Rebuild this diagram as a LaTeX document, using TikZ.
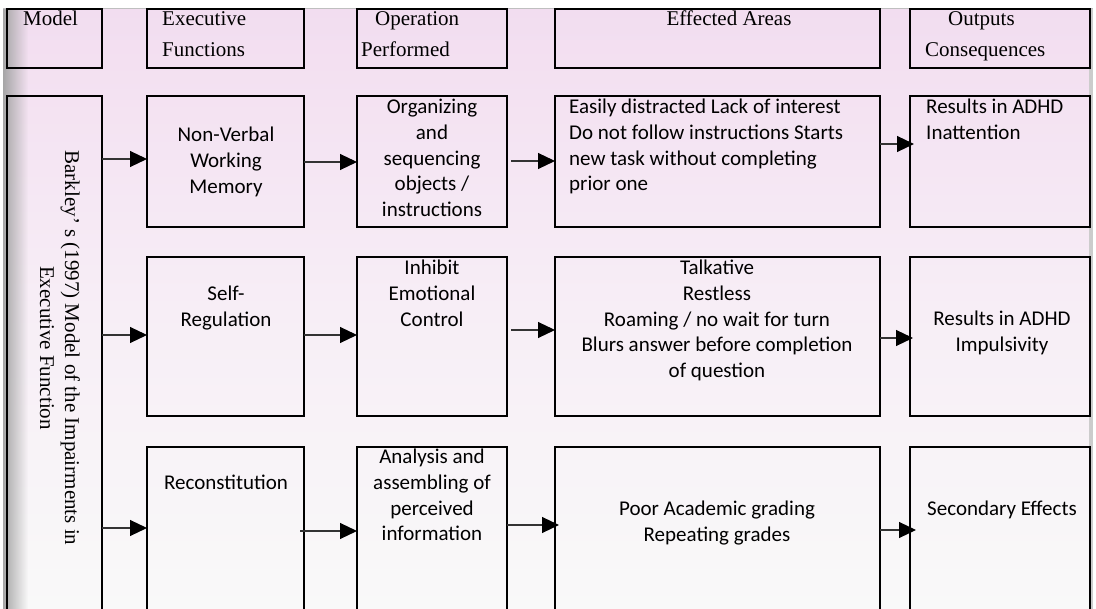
\documentclass[tikz,border=0pt]{standalone}
\usepackage{fontspec}
\setmainfont{Liberation Serif}
\newfontfamily\calib{Carlito}
\usetikzlibrary{arrows.meta,fadings}
\definecolor{pinktop}{RGB}{242,221,240}
\definecolor{pinkmid}{RGB}{247,238,246}
\definecolor{pinkbot}{RGB}{249,249,249}
\tikzset{
  box/.style={draw=black, line width=1.8pt, rectangle, inner sep=0pt, outer sep=0pt, anchor=north west},
  ctext/.style={font=\calib\fontsize{21}{25.7}\selectfont, align=center, inner sep=0pt},
  ltext/.style={font=\calib\fontsize{21}{25.7}\selectfont, align=left, inner sep=0pt},
  htext/.style={font=\fontsize{21}{31}\selectfont, align=left, inner sep=0pt},
  arr/.style={draw=black!80, line width=1.1pt, -{Triangle[length=17pt,width=16pt,color=black]}}
}
\begin{document}
\begin{tikzpicture}[x=1pt,y=-1pt]
\useasboundingbox (0,0) rectangle (1096,609);
\clip (0,0) rectangle (1096,609);
\fill[white] (0,0) rectangle (1096,609);
% panel
\shade[top color=pinktop, bottom color=pinkbot, middle color=pinkmid] (3,9) rectangle (1092,609);
\fill[black!35, path fading=east] (3,9) rectangle (28,609);
\fill[black!20] (1089,9) rectangle (1093,609);
\draw[black!25, line width=0.8pt] (3,8.5) -- (1093,8.5);
% header boxes
\node[box, minimum width=95pt, minimum height=59pt] (hmodel) at (7,9) {};
\node[box, minimum width=157pt, minimum height=59pt] (hexec) at (147,9) {};
\node[box, minimum width=150pt, minimum height=59pt] (hop) at (357,9) {};
\node[box, minimum width=325pt, minimum height=59pt] (heff) at (555,9) {};
\node[box, minimum width=180pt, minimum height=59pt] (hout) at (910,9) {};
\node[htext, anchor=north west] (tmodel) at (23,11) {Model};
\node[htext, anchor=north west] (texec) at (162,11) {Executive\\Functions};
\node[htext, anchor=north west] (top) at (361,11) {\hspace{14pt}Operation\\Performed};
\node[htext, anchor=north] (teff) at (729,11) {Effected Areas};
\node[htext, anchor=north west] (tout) at (925,11) {\hspace{23pt}Outputs\\Consequences};
% model column
\node[box, minimum width=95pt, minimum height=560pt] (bark) at (7,96) {};
\node[font=\fontsize{21}{25}\selectfont, align=center, rotate=-90, inner sep=0pt] (tbark) at (60,348) {Barkley’ s (1997) Model of the Impairments in\\Executive Function};
% row 1
\node[box, minimum width=157pt, minimum height=131pt] (nv) at (147,96) {};
\node[box, minimum width=150pt, minimum height=131pt] (org) at (357,96) {};
\node[box, minimum width=325pt, minimum height=131pt] (eff1) at (555,96) {};
\node[box, minimum width=180pt, minimum height=131pt] (out1) at (910,96) {};
\node[ctext] (tnv) at (226,162) {Non-Verbal\\Working\\Memory};
\node[ctext, anchor=north] (torg) at (432,99) {Organizing\\and\\sequencing\\objects /\\instructions};
\node[ltext, anchor=north west] (teff1) at (569,99) {Easily distracted Lack of interest\\Do not follow instructions Starts\\new task without completing\\prior one};
\node[ltext, anchor=north west] (tout1) at (926,99) {Results in ADHD\\Inattention};
% row 2
\node[box, minimum width=157pt, minimum height=159pt] (sr) at (147,257) {};
\node[box, minimum width=150pt, minimum height=159pt] (inh) at (357,257) {};
\node[box, minimum width=325pt, minimum height=159pt] (eff2) at (555,257) {};
\node[box, minimum width=180pt, minimum height=159pt] (out2) at (910,257) {};
\node[ctext, anchor=north] (tsr) at (226,286) {Self-\\Regulation};
\node[ctext, anchor=north] (tinh) at (432,260) {Inhibit\\Emotional\\Control};
\node[ctext, anchor=north] (teff2) at (717,260) {Talkative\\Restless\\Roaming / no wait for turn\\Blurs answer before completion\\of question};
\node[ctext, anchor=north] (tout2) at (1002,311) {Results in ADHD\\Impulsivity};
% row 3
\node[box, minimum width=157pt, minimum height=200pt] (rec) at (147,447) {};
\node[box, minimum width=150pt, minimum height=200pt] (ana) at (357,447) {};
\node[box, minimum width=325pt, minimum height=200pt] (eff3) at (555,447) {};
\node[box, minimum width=180pt, minimum height=200pt] (out3) at (910,447) {};
\node[ctext, anchor=north] (trec) at (226,475) {Reconstitution};
\node[ctext, anchor=north] (tana) at (432,449) {Analysis and\\assembling of\\perceived\\information};
\node[ctext, anchor=north] (teff3) at (717,501) {Poor Academic grading\\Repeating grades};
\node[ctext, anchor=north] (tout3) at (1002,501) {Secondary Effects};
% arrows row 1
\draw[arr] (bark.east |- 0,159) -- (nv.west |- 0,159);
\draw[arr] (nv.east |- 0,162) -- (org.west |- 0,162);
\draw[arr] ([xshift=4pt]org.east |- 0,161) -- (eff1.west |- 0,161);
\draw[arr] (eff1.east |- 0,144) -- ([xshift=4pt]out1.west |- 0,144);
% arrows row 2
\draw[arr] (bark.east |- 0,335) -- (sr.west |- 0,335);
\draw[arr] (sr.east |- 0,335) -- (inh.west |- 0,335);
\draw[arr] ([xshift=4pt]inh.east |- 0,330) -- (eff2.west |- 0,330);
\draw[arr] (eff2.east |- 0,338) -- ([xshift=3pt]out2.west |- 0,338);
% arrows row 3
\draw[arr] (bark.east |- 0,528) -- (rec.west |- 0,528);
\draw[arr] ([xshift=-4pt]rec.east |- 0,531) -- (ana.west |- 0,531);
\draw[arr] (ana.east |- 0,525) -- ([xshift=4pt]eff3.west |- 0,525);
\draw[arr] (eff3.east |- 0,530) -- ([xshift=6pt]out3.west |- 0,530);
\end{tikzpicture}
\end{document}
